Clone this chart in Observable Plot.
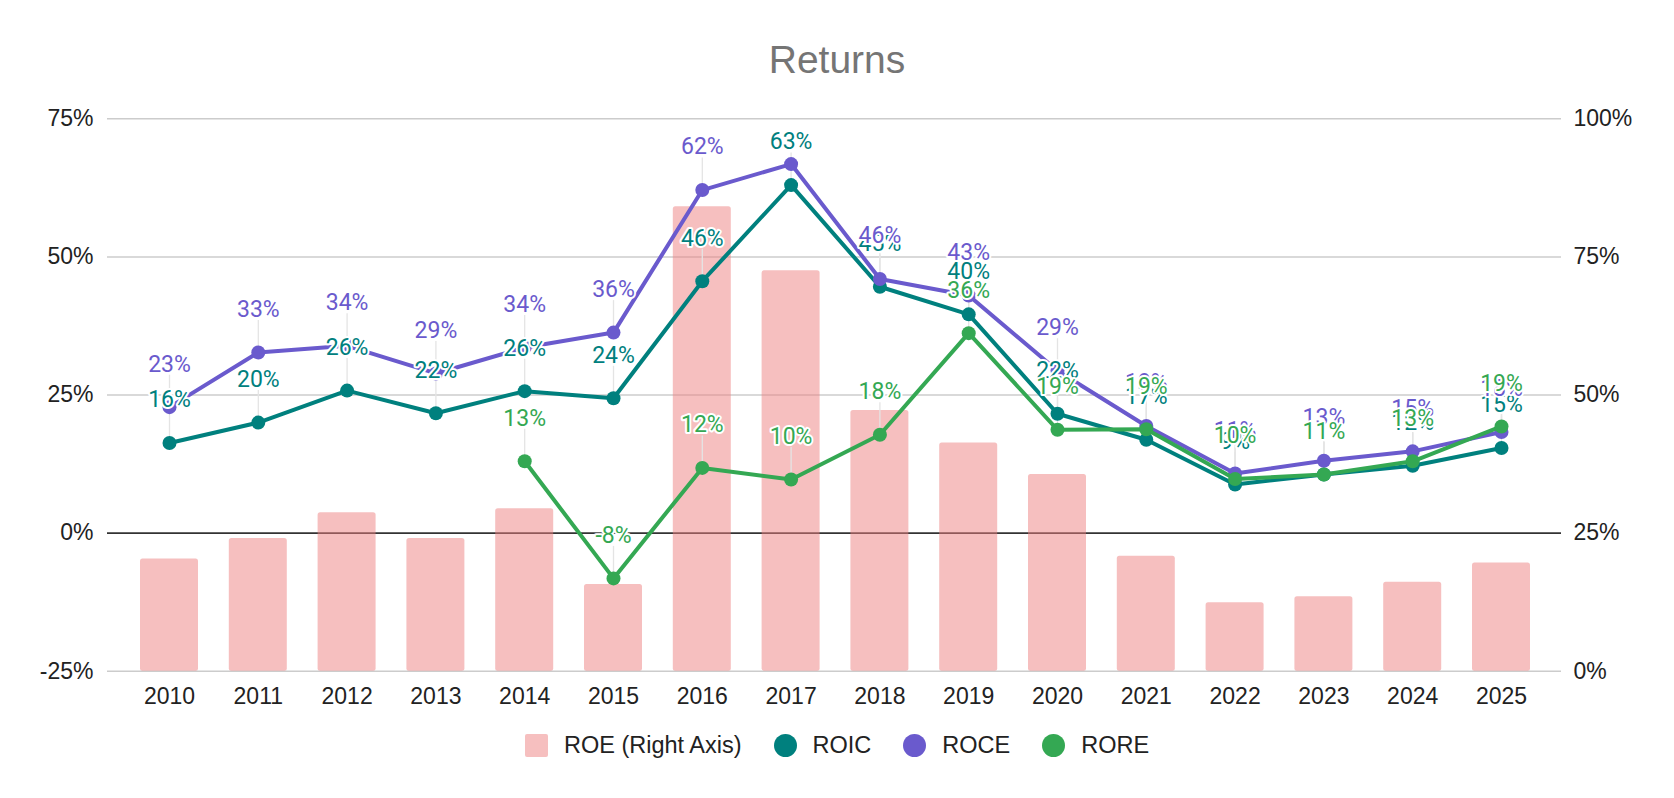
<!DOCTYPE html>
<html>
<head>
<meta charset="utf-8">
<script src="https://cdn.jsdelivr.net/npm/d3@7"></script>
<script src="https://cdn.jsdelivr.net/npm/@observablehq/plot@0.6"></script>
<style>
  html, body { margin: 0; padding: 0; background: #fff; }
  #wrap { position: relative; width: 1674px; height: 798px; overflow: hidden; }
  #title { position: absolute; left: 0; top: 40px; width: 1674px; text-align: center;
    font: 39px/39px "Liberation Sans", Arial, sans-serif; color: #757575; }
  #chart { position: absolute; left: 0; top: 90px; }
  #legend { position: absolute; left: 0; top: 733px; width: 1674px; height: 24px;
    display: flex; justify-content: center; align-items: center;
    font: 23.5px/24px "Liberation Sans", Arial, sans-serif; color: #222; }
  .item { display: flex; align-items: center; margin: 0 16px; }
  .sw { width: 23px; height: 23px; margin-right: 16px; }
  .sq { border-radius: 2px; }
  .ci { border-radius: 50%; }
</style>
</head>
<body>
<div id="wrap">
  <div id="title">Returns</div>
  <div id="chart"></div>
  <div id="legend"></div>
</div>
<script>
// ---- data ----
const years = ["2010","2011","2012","2013","2014","2015","2016","2017","2018","2019","2020","2021","2022","2023","2024","2025"];
const roe  = [20.3, 24.0, 28.7, 24.0, 29.4, 15.7, 84.1, 72.5, 47.2, 41.3, 35.6, 20.8, 12.4, 13.5, 16.1, 19.6]; // right axis
const roic = [16.3, 20.0, 25.8, 21.7, 25.7, 24.4, 45.6, 63.0, 44.6, 39.6, 21.6, 16.9, 8.8, 10.6, 12.2, 15.4];
const roce = [22.8, 32.7, 33.9, 28.9, 33.6, 36.3, 62.1, 66.8, 46.0, 43.0, 29.4, 19.4, 10.8, 13.1, 14.8, 18.3];
const rore = [null, null, null, null, 13.0, -8.2, 11.8, 9.7, 17.8, 36.2, 18.7, 18.8, 9.8, 10.6, 13.0, 19.3];
const leftTicks = [-25, 0, 25, 50, 75];
const rightDomain = [0, 100];
const leftDomain = [-25, 75];
const hiddenLabels = [["ROCE", "2017"]];

const seriesNames = ["ROIC", "ROCE", "RORE"];
const seriesValues = [roic, roce, rore];
const seriesColors = ["#00807e", "#6a5acd", "#34a853"];
const roeName = "ROE (Right Axis)";
const roeColor = "#ee7f7f";

// ---- build ----
const toLeft = d3.scaleLinear(rightDomain, leftDomain);
const bars = years.map((year, i) => ({year, roe: roe[i]}));
const series = seriesNames.map((name, s) => ({
  name, color: seriesColors[s],
  rows: years.map((year, i) => ({year, name, value: seriesValues[s][i]})).filter(d => d.value != null)
}));
const isHidden = d => hiddenLabels.some(([n, y]) => n === d.name && y === d.year);

const W = 1674, H = 640, mT = 28.3, mB = 59.3, mL = 107, mR = 113;
const pxPerUnit = (H - mT - mB) / (leftDomain[1] - leftDomain[0]);
const stemPx = 32;

const marks = [
  Plot.ruleY(leftTicks.filter(t => t !== 0), {y: d => d, stroke: "#cccccc", strokeWidth: 1.5}),
  Plot.ruleY([0], {y: d => d, stroke: "#333333", strokeWidth: 1.8}),
  Plot.rectY(bars, {x: "year", y1: () => toLeft(0), y2: d => toLeft(d.roe), fill: roeColor, fillOpacity: 0.5, rx: 2.5}),
  Plot.axisX({tickSize: 0, tickPadding: 16, fill: "#222", label: null}),
  Plot.axisY({anchor: "left", ticks: leftTicks, tickSize: 0, tickPadding: 14, tickFormat: d => `${d}%`, fill: "#222", label: null}),
  Plot.axisY({anchor: "right", ticks: leftTicks, tickSize: 0, tickPadding: 12, tickFormat: d => `${Math.round(toLeft.invert(d))}%`, fill: "#222", label: null})
];
for (const s of series) {
  marks.push(Plot.ruleX(s.rows.filter(d => !isHidden(d)), {x: "year", y1: "value", y2: d => d.value + stemPx / pxPerUnit, stroke: "#e4e4e4", strokeWidth: 1.3}));
}
for (const s of series) {
  marks.push(Plot.line(s.rows, {x: "year", y: "value", stroke: s.color, strokeWidth: 4}));
  marks.push(Plot.dot(s.rows, {x: "year", y: "value", r: 7, fill: s.color}));
}
for (const s of series) {
  marks.push(Plot.text(s.rows.filter(d => !isHidden(d)), {
    x: "year", y: "value", dy: -43, text: d => `${Math.round(d.value)}%`,
    fill: s.color, stroke: "white", strokeWidth: 4, strokeLinejoin: "round",
    fontFamily: "Roboto", fontSize: 23
  }));
}

const chart = Plot.plot({
  width: W, height: H,
  marginTop: mT, marginBottom: mB, marginLeft: mL, marginRight: mR,
  x: {type: "band", domain: years, range: [124.6, 1545.4], paddingInner: 0.347, paddingOuter: 0.1735, round: false, axis: null, label: null},
  y: {domain: leftDomain, axis: null, label: null},
  style: {fontFamily: "'Liberation Sans', Arial, sans-serif", fontSize: "23px", background: "transparent", overflow: "visible"},
  marks
});
document.getElementById("chart").appendChild(chart);

// ---- legend ----
const legendItems = [{name: roeName, color: roeColor, shape: "sq", opacity: 0.5}]
  .concat(series.map(s => ({name: s.name, color: s.color, shape: "ci", opacity: 1})));
const legend = document.getElementById("legend");
for (const it of legendItems) {
  const item = document.createElement("div");
  item.className = "item";
  const sw = document.createElement("span");
  sw.className = "sw " + it.shape;
  sw.style.background = it.color;
  sw.style.opacity = it.opacity;
  const label = document.createElement("span");
  label.textContent = it.name;
  item.appendChild(sw);
  item.appendChild(label);
  legend.appendChild(item);
}
</script>
</body>
</html>
